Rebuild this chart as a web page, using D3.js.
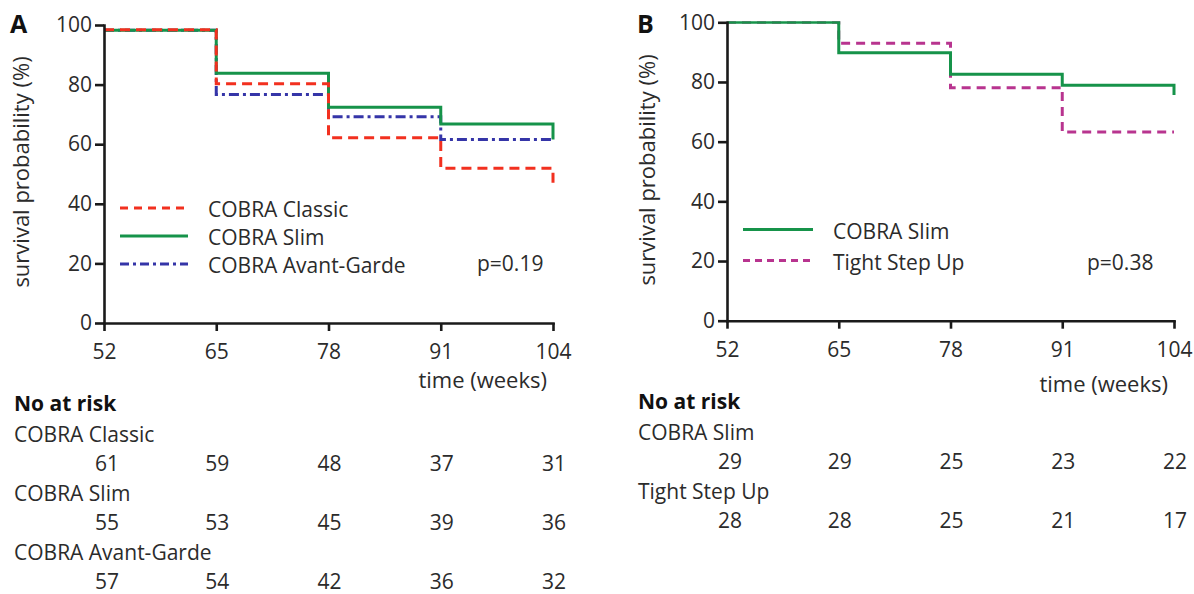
<!DOCTYPE html>
<html>
<head>
<meta charset="utf-8">
<script src="https://cdn.jsdelivr.net/npm/d3@7"></script>
<style>
  body { margin: 0; background: #fff; }
  svg text { font-family: "Open Sans", sans-serif; fill: #2b2b2b; }
  .tick text { font-size: 21px; }
  .axis path, .axis line { stroke: #1a1a1a; stroke-width: 2.6px; }
</style>
</head>
<body>
<div id="chart"></div>
<script>
// time points (weeks) and tick values
const weeks = [52, 65, 78, 91, 104];
const yTicks = [0, 20, 40, 60, 80, 100];

// panel A survival (%) at each step
const classicSurv = [98.4, 80.3, 62.2, 51.9, 46.3];
const slimSurvA   = [98.2, 83.8, 72.4, 66.8, 61.6];
const avantSurv   = [98.2, 76.7, 69.2, 61.6, 61.6];

// panel B survival (%) at each step
const slimSurvB   = [100, 89.8, 82.6, 78.9, 75.6];
const tightSurv   = [100, 93.0, 78.1, 63.2, 63.2];

// numbers at risk
const classicRisk = [61, 59, 48, 37, 31];
const slimRiskA   = [55, 53, 45, 39, 36];
const avantRisk   = [57, 54, 42, 36, 32];
const slimRiskB   = [29, 29, 25, 23, 22];
const tightRisk   = [28, 28, 25, 21, 17];

const svg = d3.select("#chart")
  .append("svg")
    .attr("width", 1194)
    .attr("height", 594);

function drawPanel(p) {
  const g = svg.append("g");

  const x = d3.scaleLinear().domain([52, 104]).range(p.xRange);
  const y = d3.scaleLinear().domain([0, 100]).range(p.yRange);

  const clipId = "clip" + p.letter;
  svg.append("clipPath").attr("id", clipId)
    .append("rect")
      .attr("x", p.xRange[0]).attr("y", y(100) - p.clipTop)
      .attr("width", p.xRange[1] - p.xRange[0] + 10)
      .attr("height", p.yRange[0] - y(100) + p.clipTop);

  const line = d3.line()
    .x(d => x(d.t))
    .y(d => y(d.s))
    .curve(d3.curveStepAfter);

  // curves, drawn in listed order
  p.series.forEach(s => {
    const pts = weeks.map((t, i) => ({t: t, s: s.values[i]}));
    g.append("path")
      .datum(pts)
      .attr("clip-path", `url(#${clipId})`)
      .attr("fill", "none")
      .attr("stroke", s.color)
      .attr("stroke-width", 3)
      .attr("stroke-dasharray", s.dash)
      .attr("d", line);
  });

  // axes
  g.append("g")
    .attr("class", "axis")
    .attr("transform", `translate(${p.xRange[0]},0)`)
    .call(d3.axisLeft(y)
      .tickValues(yTicks)
      .tickSizeInner(9)
      .tickSizeOuter(0)
      .tickPadding(3));

  g.append("g")
    .attr("class", "axis")
    .attr("transform", `translate(0,${p.yRange[0]})`)
    .call(d3.axisBottom(x)
      .tickValues(weeks)
      .tickSizeInner(8)
      .tickSizeOuter(0)
      .tickPadding(13));

  g.selectAll(".axis .domain").attr("stroke-linecap", "square");

  // panel letter
  g.append("text")
    .attr("x", p.letterX)
    .attr("y", 33)
    .style("font-size", "25px")
    .style("font-weight", "bold")
    .style("fill", "#111")
    .text(p.letter);

  // y label
  g.append("text")
    .attr("transform", `translate(${p.yLabelX},${p.yLabelY}) rotate(-90)`)
    .attr("text-anchor", "middle")
    .style("font-size", "22px")
    .text("survival probability (%)");

  // x label
  g.append("text")
    .attr("x", p.xLabelRight)
    .attr("y", p.xLabelY)
    .attr("text-anchor", "end")
    .style("font-size", "22px")
    .text("time (weeks)");

  // legend
  p.series.slice().sort((a, b) => a.order - b.order).forEach((s, i) => {
    const ly = p.legendY + i * p.legendStep;
    g.append("line")
      .attr("x1", p.legendX).attr("x2", p.legendX + p.legendLen)
      .attr("y1", ly).attr("y2", ly)
      .attr("stroke", s.color)
      .attr("stroke-width", 3)
      .attr("stroke-dasharray", s.legendDash);
    g.append("text")
      .attr("x", p.legendX + p.legendLen + 20)
      .attr("y", ly + 9)
      .style("font-size", "21px")
      .text(s.name);
  });

  g.append("text")
    .attr("x", p.pX)
    .attr("y", p.pY)
    .style("font-size", "21px")
    .text(p.pText);

  // numbers at risk
  g.append("text")
    .attr("x", p.tableX)
    .attr("y", p.tableY)
    .style("font-size", "21px")
    .style("font-weight", "bold")
    .style("fill", "#111")
    .text("No at risk");

  p.series.slice().sort((a, b) => a.order - b.order).forEach((s, i) => {
    const ry = p.tableY + 31 + i * 59;
    g.append("text")
      .attr("x", p.tableX)
      .attr("y", ry)
      .style("font-size", "21px")
      .text(s.name);
    g.selectAll(null)
      .data(s.risk)
      .join("text")
        .attr("x", (d, j) => x(weeks[j]) + (j === 0 ? 3 : 1))
        .attr("y", ry + 29)
        .attr("text-anchor", "middle")
        .style("font-size", "21px")
        .text(d => d);
  });
}

drawPanel({
  letter: "A", letterX: 10,
  xRange: [104, 553], yRange: [323, 25], clipTop: 5,
  yLabelX: 29, yLabelY: 172,
  xLabelRight: 547, xLabelY: 388,
  legendX: 120, legendLen: 68, legendY: 208, legendStep: 28,
  pX: 477, pY: 271, pText: "p=0.19",
  tableX: 14, tableY: 411,
  series: [
    {name: "COBRA Avant-Garde", order: 2, values: avantSurv, risk: avantRisk,
     color: "#3535a8", dash: "10,4,3,4", legendDash: "9,4,3,4"},
    {name: "COBRA Slim", order: 1, values: slimSurvA, risk: slimRiskA,
     color: "#16934a", dash: null, legendDash: null},
    {name: "COBRA Classic", order: 0, values: classicSurv, risk: classicRisk,
     color: "#f2301f", dash: "10,6", legendDash: "8,6"}
  ]
});

drawPanel({
  letter: "B", letterX: 637,
  xRange: [727, 1174], yRange: [320.7, 22.3], clipTop: 1,
  yLabelX: 655, yLabelY: 170,
  xLabelRight: 1168, xLabelY: 392,
  legendX: 743, legendLen: 70, legendY: 229.5, legendStep: 31,
  pX: 1087, pY: 270, pText: "p=0.38",
  tableX: 638, tableY: 409,
  series: [
    {name: "Tight Step Up", order: 1, values: tightSurv, risk: tightRisk,
     color: "#b8348f", dash: "9,6", legendDash: "7,5"},
    {name: "COBRA Slim", order: 0, values: slimSurvB, risk: slimRiskB,
     color: "#16934a", dash: null, legendDash: null}
  ]
});
</script>
</body>
</html>
